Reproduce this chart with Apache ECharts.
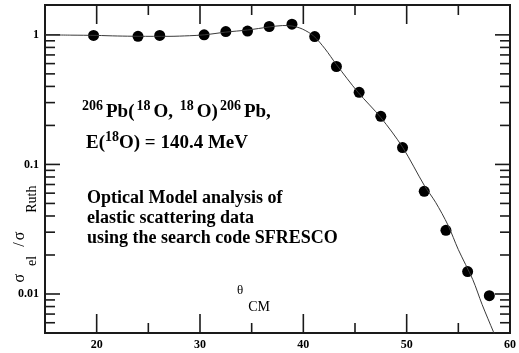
<!DOCTYPE html>
<html>
<head>
<meta charset="utf-8">
<script src="https://cdn.jsdelivr.net/npm/echarts@6/dist/echarts.min.js"></script>
<style>
  html, body { margin: 0; padding: 0; background: #fff; }
  #chart { width: 519px; height: 353px; }
</style>
</head>
<body>
<div id="chart"></div>
<script>
// measured elastic cross section ratio vs theta_CM (deg)
const angles = [19.7, 24.0, 26.1, 30.4, 32.5, 34.6, 36.7, 38.9, 41.1, 43.2, 45.4, 47.5, 49.6, 51.7, 53.8, 55.9, 58.0];
const ratios = [0.99, 0.975, 0.99, 1.0, 1.06, 1.07, 1.16, 1.21, 0.97, 0.57, 0.36, 0.235, 0.135, 0.062, 0.031, 0.0149, 0.0097];

// optical model fit curve
const fitAngles = [15, 17.5, 20, 22, 24, 27, 29, 30.4, 32.5, 34.6, 36.7, 38, 38.9, 39.9, 41, 42.1, 43.2, 45.3, 47.5, 49.6, 51.7, 52.8, 54, 55, 56.4, 57.3, 58.4, 58.7];
const fitRatios = [1.0, 0.995, 0.99, 0.98, 0.975, 0.974, 0.985, 1.0, 1.05, 1.09, 1.15, 1.18, 1.17, 1.11, 0.98, 0.78, 0.59, 0.36, 0.23, 0.136, 0.069, 0.051, 0.034, 0.022, 0.0129, 0.0083, 0.0051, 0.0045];

// tick positions (ticks point inwards on all four sides)
const xMajorTicks = [20, 30, 40, 50];
const xMinorTicks = [25, 35, 45, 55];
const xLabels = [20, 30, 40, 50, 60];
const yMajorTicks = [0.01, 0.1, 1];
const yMinorTicks = [0.006, 0.007, 0.008, 0.009,
  0.02, 0.03, 0.04, 0.05, 0.06, 0.07, 0.08, 0.09,
  0.2, 0.3, 0.4, 0.5, 0.6, 0.7, 0.8, 0.9];

const serif = 'Liberation Serif';
const ink = '#1a1a1a';

function tickSeries(values, isX, len) {
  return {
    type: 'custom',
    silent: true,
    data: values.map(v => isX ? [v, 1] : [15, v]),
    renderItem: (params, api) => {
      const c = params.coordSys;
      const p = api.coord([api.value(0), api.value(1)]);
      const style = { stroke: ink, lineWidth: 1.6 };
      if (isX) {
        const b = c.y + c.height;
        return { type: 'group', children: [
          { type: 'line', shape: { x1: p[0], y1: b, x2: p[0], y2: b - len }, style },
          { type: 'line', shape: { x1: p[0], y1: c.y, x2: p[0], y2: c.y + len }, style }
        ] };
      }
      const r = c.x + c.width;
      return { type: 'group', children: [
        { type: 'line', shape: { x1: c.x, y1: p[1], x2: c.x + len, y2: p[1] }, style },
        { type: 'line', shape: { x1: r, y1: p[1], x2: r - len, y2: p[1] }, style }
      ] };
    }
  };
}

// rich text pieces: shared lineHeight, padding shifts the glyphs up/down
const bold = (size, lh, pad) => ({
  fontSize: size, fontWeight: 'bold', fontFamily: serif, fill: '#000', lineHeight: lh, padding: pad
});
const plain = (size, lh, pad) => ({
  fontSize: size, fontFamily: serif, fill: '#000', lineHeight: lh, padding: pad
});

const chart = echarts.init(document.getElementById('chart'));

const option = {
  animation: false,
  backgroundColor: '#fff',
  grid: {
    left: 45, right: 4, top: 5, bottom: 20,
    show: true, borderColor: ink, borderWidth: 2, backgroundColor: 'transparent'
  },
  xAxis: {
    type: 'value', min: 15, max: 60, interval: 5,
    axisLine: { show: false }, axisTick: { show: false }, splitLine: { show: false },
    axisLabel: {
      margin: 6, color: '#000', fontSize: 12, fontWeight: 'bold', fontFamily: serif,
      formatter: v => xLabels.includes(v) ? String(v) : ''
    }
  },
  yAxis: {
    type: 'log', logBase: 10, min: 0.005, max: 1.7,
    axisLine: { show: false }, axisTick: { show: false }, splitLine: { show: false },
    axisLabel: {
      margin: 6, color: '#000', fontSize: 12, fontWeight: 'bold', fontFamily: serif,
      formatter: v => {
        const hit = yMajorTicks.find(t => Math.abs(Math.log10(v) - Math.log10(t)) < 1e-6);
        return hit === undefined ? '' : String(hit);
      }
    }
  },
  series: [
    tickSeries(xMajorTicks, true, 19),
    tickSeries(xMinorTicks, true, 10),
    tickSeries(yMajorTicks, false, 15),
    tickSeries(yMinorTicks, false, 10),
    {
      type: 'line',
      data: fitAngles.map((a, i) => [a, fitRatios[i]]),
      showSymbol: false,
      smooth: 0.3,
      lineStyle: { color: '#3a3a3a', width: 1 },
      clip: true
    },
    {
      type: 'scatter',
      data: angles.map((a, i) => [a, ratios[i]]),
      symbol: 'circle',
      symbolSize: 11,
      itemStyle: { color: '#000', opacity: 1 }
    }
  ],
  graphic: [
    {
      type: 'text', x: 80, y: 100,
      style: {
        text: '{sup|206}{m|Pb(}{sup|18}{m|O, }{sup|18}{m|O)}{sup|206}{m|Pb,}',
        verticalAlign: 'top',
        rich: { m: bold(19, 18, [6, 0, 0, 0]), sup: bold(14, 18, [0, 3, 5, 2]) }
      }
    },
    {
      type: 'text', x: 86, y: 131,
      style: {
        text: '{m|E(}{sup|18}{m|O) = 140.4 MeV}',
        verticalAlign: 'top',
        rich: { m: bold(19, 18, [6, 0, 0, 0]), sup: bold(14, 18, [0, 0, 5, 0]) }
      }
    },
    {
      type: 'text', x: 87, y: 188,
      style: {
        text: 'Optical Model analysis of\nelastic scattering data\nusing the search code SFRESCO',
        verticalAlign: 'top',
        fontSize: 18, fontWeight: 'bold', fontFamily: serif, fill: '#000', lineHeight: 20
      }
    },
    {
      type: 'text', x: 237, y: 292,
      style: {
        text: '{t|θ}{s|CM}',
        verticalAlign: 'top',
        rich: { t: plain(13, 14, [0, 0, 16, 0]), s: plain(14, 14, [16, 0, 0, 5]) }
      }
    },
    {
      type: 'text', x: 18, y: 234, rotation: Math.PI / 2,
      style: {
        text: '{s|σ}{sub|el}{sl|/}{s2|σ}{sub2|Ruth}',
        align: 'center', verticalAlign: 'top',
        rich: {
          s: plain(16, 16, [0, 0, 12, 0]),
          sub: plain(14, 16, [13, 0, 0, 8]),
          sl: plain(16, 16, [0, 0, 12, 9]),
          s2: plain(16, 16, [0, 0, 12, 2]),
          sub2: plain(14, 16, [13, 0, 0, 19])
        }
      }
    }
  ]
};

chart.setOption(option);
window.addEventListener('resize', () => chart.resize());
</script>
</body>
</html>
